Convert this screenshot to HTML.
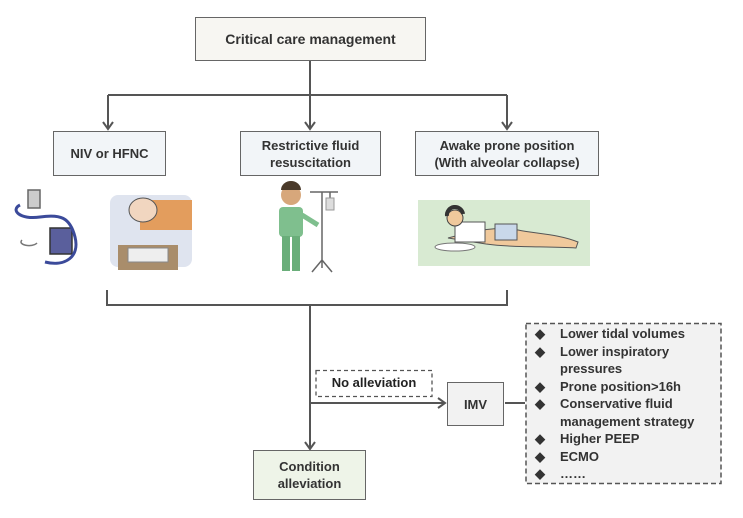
<!DOCTYPE html>
<html><head><style>
body{margin:0;width:743px;height:518px;background:#fff;overflow:hidden;position:relative;font-family:"Liberation Sans",sans-serif;font-weight:bold;color:#333}
.b{position:absolute;border:1.5px solid #666;box-sizing:border-box;display:flex;align-items:center;justify-content:center;text-align:center;font-size:13px;line-height:17px}
.l{position:relative;padding-left:25px}
.l i{position:absolute;left:0;font-style:normal}
</style></head><body>
<svg width="743" height="518" style="position:absolute;left:0;top:0" stroke="#555" stroke-width="2" fill="none">
<path d="M310 60V128M108 95H507M108 95V128M507 95V128"/>
<path d="M103 122l5 7 5-7M305 122l5 7 5-7M502 122l5 7 5-7"/>
<path d="M107 290V305H507V290M310 305V449M305 442l5 7 5-7M310 403H445M438 398l7 5-7 5M505 403H525"/>
<g stroke-width="1.5">
<rect x="50" y="228" width="22" height="26" fill="#5a5f9c" stroke="#333"/>
<path d="M20 205c-10 5 0 15 20 12s30 0 35 20-10 30-30 25" stroke="#3b4a9a" stroke-width="3"/>
<rect x="28" y="190" width="12" height="18" fill="#ccc" stroke="#666"/>
<path d="M22 240c-5 5 10 8 15 3" stroke="#777"/>
</g>
<rect x="110" y="195" width="82" height="72" rx="8" fill="#dfe4ef" stroke="none"/>
<rect x="140" y="200" width="52" height="30" fill="#e39d5d" stroke="none"/>
<ellipse cx="143" cy="210" rx="14" ry="12" fill="#f1d6c0" stroke="#555" stroke-width="1"/>
<rect x="118" y="245" width="60" height="25" fill="#a98d6b" stroke="none"/>
<rect x="128" y="248" width="40" height="14" fill="#eee" stroke="#888" stroke-width="1"/>
<circle cx="291" cy="195" r="10" fill="#d7a77b" stroke="none"/>
<path d="M281 190a10 9 0 0 1 20 0z" fill="#4a3a2a" stroke="none"/>
<rect x="279" y="207" width="24" height="30" rx="4" fill="#7fbf8e" stroke="none"/>
<rect x="282" y="236" width="8" height="35" fill="#6aae7a" stroke="none"/>
<rect x="292" y="236" width="8" height="35" fill="#6aae7a" stroke="none"/>
<path d="M302 215l16 10" stroke="#7fbf8e" stroke-width="5"/>
<path d="M322 192V268M310 192H338M330 192V210M322 260l-10 12M322 260l10 12" stroke="#666" stroke-width="1.5"/>
<rect x="326" y="198" width="8" height="12" fill="#ddd" stroke="#999" stroke-width="1"/>
<rect x="418" y="200" width="172" height="66" fill="#d8ead2" stroke="none"/>
<path d="M448 238c30-8 50-12 70-8s40 4 60 12l-2 6c-30-2-60 0-90-4z" fill="#f0c99c" stroke="#555" stroke-width="1"/>
<path d="M455 222h30v20h-30z" fill="#fff" stroke="#555" stroke-width="1"/>
<rect x="495" y="224" width="22" height="16" fill="#c9d8ea" stroke="#555" stroke-width="1"/>
<circle cx="455" cy="218" r="8" fill="#f0c99c" stroke="#444" stroke-width="1"/>
<path d="M447 216a8 8 0 0 1 16-2" stroke="#333" stroke-width="4"/>
<ellipse cx="455" cy="247" rx="20" ry="4" fill="#fff" stroke="#777" stroke-width="1"/>
<rect x="526" y="323.5" width="195" height="160" fill="#f2f2f2" stroke="#555" stroke-width="1.5" stroke-dasharray="5 3"/>
<rect x="316" y="370.5" width="116" height="26" fill="#fff" stroke="#555" stroke-width="1.3" stroke-dasharray="4 3"/>
</svg>
<div class="b" style="left:195px;top:17px;width:231px;height:44px;background:#f7f6f2;font-size:14px">Critical care management</div>
<div class="b" style="left:53px;top:131px;width:113px;height:45px;background:#f2f5f8">NIV or HFNC</div>
<div class="b" style="left:240px;top:131px;width:141px;height:45px;background:#f2f5f8">Restrictive fluid<br>resuscitation</div>
<div class="b" style="left:415px;top:131px;width:184px;height:45px;background:#f2f5f8">Awake prone position<br>(With alveolar collapse)</div>
<div class="b" style="left:253px;top:450px;width:113px;height:50px;background:#eef4e8">Condition<br>alleviation</div>
<div class="b" style="left:447px;top:382px;width:57px;height:44px;background:#f2f2f2">IMV</div>
<div style="position:absolute;left:316px;top:375px;width:116px;text-align:center;font-size:13px;color:#222">No alleviation</div>
<div style="position:absolute;left:535px;top:325px;font-size:13px;line-height:17.5px;color:#333">
<div class="l"><i>◆</i>Lower tidal volumes</div>
<div class="l"><i>◆</i>Lower inspiratory<br>pressures</div>
<div class="l"><i>◆</i>Prone position&gt;16h</div>
<div class="l"><i>◆</i>Conservative fluid<br>management strategy</div>
<div class="l"><i>◆</i>Higher PEEP</div>
<div class="l"><i>◆</i>ECMO</div>
<div class="l"><i>◆</i>……</div>
</div>
</body></html>
